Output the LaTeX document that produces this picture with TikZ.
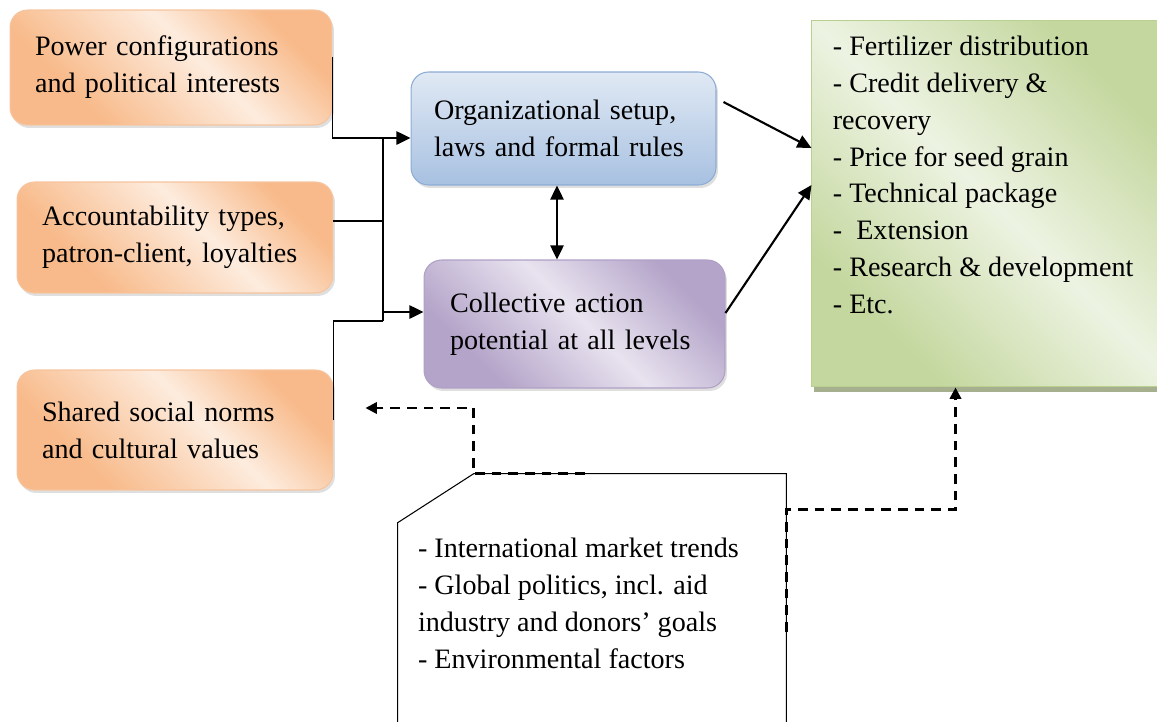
\documentclass[tikz,border=0pt]{standalone}
\usepackage{fontspec}
\setmainfont{Liberation Serif}
\usetikzlibrary{arrows.meta, calc, shadows}

\definecolor{OrangeDark}{RGB}{248,186,138}
\definecolor{OrangeLight}{RGB}{253,236,222}
\definecolor{OrangeLine}{RGB}{246,196,158}
\definecolor{BlueTop}{RGB}{224,233,244}
\definecolor{BlueBottom}{RGB}{168,193,225}
\definecolor{BlueLine}{RGB}{140,172,212}
\definecolor{PurpleDark}{RGB}{180,164,201}
\definecolor{PurpleLight}{RGB}{232,227,239}
\definecolor{PurpleLine}{RGB}{176,160,198}
\definecolor{GreenDark}{RGB}{196,215,158}
\definecolor{GreenLight}{RGB}{237,243,226}
\definecolor{GreenLine}{RGB}{186,208,144}
\definecolor{GreenShadow}{RGB}{166,176,142}

\pgfdeclarehorizontalshading{orangeband}{100bp}{color(0bp)=(OrangeDark); color(30bp)=(OrangeDark); color(56bp)=(OrangeLight); color(74bp)=(OrangeDark); color(100bp)=(OrangeDark)}
\pgfdeclarehorizontalshading{purpleband}{100bp}{color(0bp)=(PurpleDark); color(28bp)=(PurpleDark); color(52bp)=(PurpleLight); color(74bp)=(PurpleDark); color(100bp)=(PurpleDark)}
\pgfdeclarehorizontalshading{greenband}{100bp}{color(0bp)=(GreenDark); color(27bp)=(GreenDark); color(50bp)=(GreenLight); color(73bp)=(GreenDark); color(100bp)=(GreenDark)}

\begin{document}
\begin{tikzpicture}[x=0.02cm, y=-0.02cm,
  every node/.style={font=\fontsize{16}{21}\selectfont, align=left, inner sep=0pt},
  softbox/.style={rounded corners=0.35cm, inner xsep=0.5cm, line width=0.6pt,
    drop shadow={shadow xshift=0.04cm, shadow yshift=-0.06cm, opacity=0.25}},
  factor/.style={softbox, draw=OrangeLine, shading=orangeband, shading angle=45},
  formal/.style={softbox, draw=BlueLine, top color=BlueTop, bottom color=BlueBottom},
  collective/.style={softbox, draw=PurpleLine, shading=purpleband, shading angle=45},
  outcome/.style={draw=GreenLine, line width=0.6pt, shading=greenband, shading angle=45,
    drop shadow={shadow xshift=0.06cm, shadow yshift=-0.1cm, fill=GreenShadow, opacity=1}},
  link/.style={line width=0.6pt},
  push/.style={line width=1.2pt, -{Triangle[length=8pt, width=7.5pt]}},
  influence/.style={line width=1.4pt, dash pattern=on 5.5pt off 4pt, -{Triangle[length=6.5pt, width=6.5pt]}}]
\useasboundingbox (0,0) rectangle (1157,721);
\clip (0,0) rectangle (1157,721);

\node[factor, text width=5.44cm, minimum height=2.3cm] (power) at (171,67.5) {Power configurations\\and political interests};
\node[factor, text width=5.32cm, minimum height=2.22cm] (account) at (175,237.5) {Accountability types,\\patron-client, loyalties};
\node[factor, text width=5.32cm, minimum height=2.4cm] (norms) at (175,430) {Shared social norms\\and cultural values};
\node[formal, text width=5.18cm, inner xsep=0.46cm, minimum height=2.26cm] (rules) at (563.5,128.5) {Organizational setup,\\laws and formal rules};
\node[collective, text width=4.98cm, inner xsep=0.52cm, minimum height=2.56cm] (action) at (574.5,324) {Collective action\\potential at all levels};

\node[outcome, minimum width=7.38cm, minimum height=7.34cm] (services) at (995.5,203.5) {};
\node[anchor=north west] (servlist) at ($(services.north west)+(22,16)$) {- Fertilizer distribution\\- Credit delivery \&\\recovery\\- Price for seed grain\\- Technical package\\-~ Extension\\- Research \& development\\- Etc.};

\node[minimum width=7.76cm, minimum height=6.12cm] (context) at (592,627) {};
\draw[link] (context.south west) -- ($(context.north west)+(0,49)$) -- ($(context.north west)+(76,0)$) -- (context.north east) -- (context.south east);
\node[anchor=north west] (contextlist) at ($(context.north west)+(20,64)$) {- International market trends\\- Global politics, incl. aid\\industry and donors' goals\\- Environmental factors};

\coordinate (joinTop) at (383,138);
\coordinate (joinMid) at (383,312);
\coordinate (joinBot) at (383,321);
\draw[link] ($(power.east)+(0,-10.5)$) |- (joinTop);
\draw[link] ($(account.east)+(0,-16.5)$) coordinate (accOut) -- (accOut -| joinTop);
\draw[link] ($(norms.east)+(0,-10)$) |- (joinBot);
\draw[link] (joinTop) -- (joinBot);
\draw[push] (joinTop) -- (joinTop -| rules.west);
\draw[push] (joinMid) -- (joinMid -| action.west);
\draw[push, {Triangle[length=8pt, width=7.5pt]}-{Triangle[length=8pt, width=7.5pt]}] ($(rules.south)+(-6.5,0)$) -- ($(action.north)+(-17.5,0)$);
\draw[push] ($(rules.east)+(7,-26.5)$) -- ($(services.west)+(1,-55.5)$);
\draw[push] ($(action.east)+(0,-11)$) -- ($(services.west)+(1,-18.5)$);

\draw[influence] ($(context.north west)+(187,0)$) -- ($(context.north west)+(76,0)$) |- ($(norms.east)+(32,-22)$);
\draw[influence] ($(context.north east)+(0,158)$) -- ($(context.north east)+(0,36)$) -| ($(services.south west)+(145,0)$);
\end{tikzpicture}
\end{document}
